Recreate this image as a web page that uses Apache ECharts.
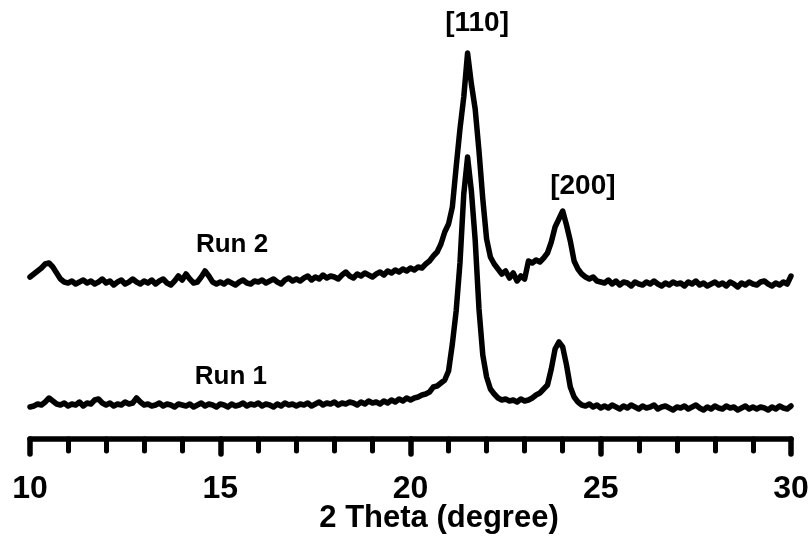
<!DOCTYPE html>
<html>
<head>
<meta charset="utf-8">
<script src="https://cdn.jsdelivr.net/npm/echarts@6/dist/echarts.min.js"></script>
<style>
html, body { margin: 0; padding: 0; background: #fff; }
#chart { width: 812px; height: 546px; }
</style>
</head>
<body>
<div id="chart"></div>
<script>
// 2 theta sampled from 10 to 30 deg, step 0.1
var thetaStart = 10;
var thetaStep = 0.1;

var run2 = [
	162, 165, 168, 171, 175, 176, 172, 166, 160, 157, 156,
	158, 155, 157, 159, 156, 158, 155, 157, 160, 156,
	158, 154, 157, 159, 155, 157, 160, 157, 155, 158,
	156, 159, 155, 158, 160, 156, 154, 158, 163, 159,
	165, 160, 156, 157, 162, 168, 163, 157, 155, 157,
	155, 158, 156, 154, 157, 159, 156, 155, 158, 157,
	159, 156, 158, 160, 157, 155, 159, 161, 158, 160,
	158, 161, 163, 159, 162, 160, 164, 161, 163, 162,
	160, 164, 167, 163, 161, 165, 163, 166, 164, 162,
	165, 167, 164, 168, 166, 169, 167, 170, 168, 171,
	169, 172, 171, 175, 178, 183, 187, 195, 207, 215,
	232, 272, 310, 342, 386, 355, 330, 288, 240, 200,
	182, 175, 170, 165, 168, 161, 166, 158, 163, 160,
	178, 176, 179, 177, 181, 186, 197, 212, 220, 228,
	214, 198, 178, 170, 165, 162, 160, 162, 158, 157,
	156, 159, 155, 158, 154, 157, 156, 153, 157, 155,
	154, 157, 155, 158, 155, 153, 156, 154, 157, 155,
	156, 153, 157, 155, 158, 154, 156, 153, 155, 157,
	154, 156, 153, 157, 155, 152, 156, 154, 157, 155,
	154, 157, 158, 155, 153, 156, 154, 157, 155, 163
];

var run1 = [
	32, 33, 35, 34, 37, 41, 38, 35, 34, 36, 33,
	35, 34, 37, 33, 36, 35, 39, 40, 36, 34,
	36, 33, 35, 34, 37, 35, 36, 41, 37, 34,
	35, 33, 34, 36, 33, 35, 34, 32, 35, 34,
	33, 35, 32, 34, 36, 33, 35, 34, 32, 35,
	34, 32, 35, 33, 34, 36, 33, 35, 34, 36,
	33, 35, 34, 32, 35, 33, 36, 34, 35, 33,
	35, 34, 36, 33, 35, 37, 34, 36, 35, 37,
	34, 36, 35, 37, 36, 34, 37, 35, 38, 36,
	37, 35, 38, 36, 39, 37, 40, 38, 41, 39,
	41, 42, 44, 45, 47, 52, 53, 56, 59, 68,
	95, 128, 176, 245, 282, 248, 199, 130, 84, 62,
	50, 45, 41, 39, 40, 38, 39, 37, 40, 38,
	39, 41, 44, 46, 50, 54, 70, 90, 97, 92,
	74, 52, 42, 37, 34, 33, 35, 32, 34, 31,
	33, 31, 34, 32, 30, 33, 31, 34, 32, 30,
	33, 31, 32, 34, 30, 32, 33, 31, 29, 32,
	31, 33, 30, 32, 34, 31, 29, 32, 30, 33,
	31, 30, 33, 31, 32, 29, 31, 33, 30, 32,
	30, 32, 31, 29, 32, 30, 33, 31, 30, 33
];

// annotation text and where it sits (2 theta, intensity)
var peakLabels = ['[110]', '[200]'];
var peakLabelPos = [[21.75, 416], [24.53, 253]];
var runLabels = ['Run 2', 'Run 1'];
var runLabelPos = [[15.31, 194], [15.28, 62]];

function toPairs(values) {
	var out = [];
	for (var i = 0; i < values.length; i++) {
		out.push([+(thetaStart + i * thetaStep).toFixed(1), values[i]]);
	}
	return out;
}

var font = '"Liberation Sans", Arial, sans-serif';
var lineStyle = { color: '#000', width: 5.5, join: 'round', cap: 'round' };

var textData = [];
for (var i = 0; i < peakLabels.length; i++) {
	textData.push({ value: peakLabelPos[i], name: peakLabels[i], label: { fontSize: 28 } });
}
for (var j = 0; j < runLabels.length; j++) {
	textData.push({ value: runLabelPos[j], name: runLabels[j], label: { fontSize: 26 } });
}

var chart = echarts.init(document.getElementById('chart'));
chart.setOption({
	animation: false,
	backgroundColor: '#fff',
	grid: { left: 30, right: 21, top: 0, bottom: 107 },
	xAxis: {
		type: 'value',
		min: 10,
		max: 30,
		interval: 5,
		axisLine: { lineStyle: { color: '#000', width: 5.5, cap: 'round' } },
		axisTick: { show: true, length: 15, lineStyle: { color: '#000', width: 5.5, cap: 'round' } },
		minorTick: { show: true, splitNumber: 5, length: 12, lineStyle: { color: '#000', width: 5, cap: 'round' } },
		splitLine: { show: false },
		axisLabel: {
			margin: 34,
			color: '#000',
			fontSize: 32,
			fontWeight: 'bold',
			fontFamily: font
		}
	},
	yAxis: { type: 'value', min: 0, max: 439, show: false },
	graphic: [{
		type: 'text',
		x: 439,
		y: 518,
		style: {
			text: '2 Theta (degree)',
			fill: '#000',
			font: 'bold 31px ' + font,
			align: 'center',
			verticalAlign: 'middle'
		}
	}],
	series: [{
		name: 'Run 2',
		type: 'line',
		showSymbol: false,
		lineStyle: lineStyle,
		data: toPairs(run2)
	}, {
		name: 'Run 1',
		type: 'line',
		showSymbol: false,
		lineStyle: lineStyle,
		data: toPairs(run1)
	}, {
		type: 'scatter',
		symbolSize: 0,
		silent: true,
		itemStyle: { color: '#000', opacity: 1 },
		label: {
			show: true,
			position: 'inside',
			color: '#000',
			fontWeight: 'bold',
			fontFamily: font,
			formatter: function (p) { return p.name; }
		},
		data: textData
	}]
});
</script>
</body>
</html>
